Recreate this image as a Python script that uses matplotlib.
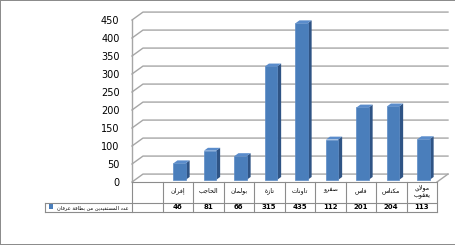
import matplotlib
matplotlib.use('Agg')
import matplotlib.pyplot as plt
from matplotlib.patches import Polygon, Rectangle

# data
categories = ['إفران', 'الحاجب', 'بولمان', 'تازة', 'تاونات', 'صفرو', 'فاس', 'مكناس', 'مولاي\nيعقوب']
values = [46, 81, 66, 315, 435, 112, 201, 204, 113]
series_name = 'عدد المستفيدين من بطاقة عرفان'
yticks = [0, 50, 100, 150, 200, 250, 300, 350, 400, 450]

# --- minimal arabic shaping (presentation forms + visual order) ---
FORMS = {
    'ا': (0xFE8D, 0xFE8E, None, None), 'إ': (0xFE87, 0xFE88, None, None),
    'ب': (0xFE8F, 0xFE90, 0xFE91, 0xFE92), 'ة': (0xFE93, 0xFE94, None, None),
    'ت': (0xFE95, 0xFE96, 0xFE97, 0xFE98), 'ج': (0xFE9D, 0xFE9E, 0xFE9F, 0xFEA0),
    'ح': (0xFEA1, 0xFEA2, 0xFEA3, 0xFEA4), 'د': (0xFEA9, 0xFEAA, None, None),
    'ر': (0xFEAD, 0xFEAE, None, None), 'ز': (0xFEAF, 0xFEB0, None, None),
    'س': (0xFEB1, 0xFEB2, 0xFEB3, 0xFEB4), 'ص': (0xFEB9, 0xFEBA, 0xFEBB, 0xFEBC),
    'ط': (0xFEC1, 0xFEC2, 0xFEC3, 0xFEC4), 'ع': (0xFEC9, 0xFECA, 0xFECB, 0xFECC),
    'ف': (0xFED1, 0xFED2, 0xFED3, 0xFED4), 'ق': (0xFED5, 0xFED6, 0xFED7, 0xFED8),
    'ك': (0xFED9, 0xFEDA, 0xFEDB, 0xFEDC), 'ل': (0xFEDD, 0xFEDE, 0xFEDF, 0xFEE0),
    'م': (0xFEE1, 0xFEE2, 0xFEE3, 0xFEE4), 'ن': (0xFEE5, 0xFEE6, 0xFEE7, 0xFEE8),
    'ه': (0xFEE9, 0xFEEA, 0xFEEB, 0xFEEC), 'و': (0xFEED, 0xFEEE, None, None),
    'ي': (0xFEF1, 0xFEF2, 0xFEF3, 0xFEF4),
    'لا': (0xFEFB, 0xFEFC, None, None), 'لإ': (0xFEF9, 0xFEFA, None, None),
}


def shape(text):
    lines = []
    for line in text.split('\n'):
        toks = []
        i = 0
        while i < len(line):
            if line[i] == 'ل' and i + 1 < len(line) and line[i:i + 2] in FORMS:
                toks.append(line[i:i + 2])
                i += 2
            else:
                toks.append(line[i])
                i += 1
        out = []
        for k, t in enumerate(toks):
            if t not in FORMS:
                out.append(t)
                continue
            prev = toks[k - 1] if k > 0 else None
            nxt = toks[k + 1] if k + 1 < len(toks) else None
            jp = prev in FORMS and FORMS[prev][2] is not None
            jn = nxt in FORMS and FORMS[t][2] is not None
            iso, fin, ini, med = FORMS[t]
            cp = med if (jp and jn) else fin if jp else ini if jn else iso
            out.append(chr(cp))
        lines.append(''.join(out)[::-1])
    return '\n'.join(lines)


plt.rcParams['font.family'] = ['DejaVu Sans']

fig = plt.figure(figsize=(4.56, 2.45), dpi=100)
fig.patch.set_edgecolor('#8c8c8c')
fig.patch.set_linewidth(1.2)

# axes = front plane of the 3d box
ax = fig.add_axes([132 / 456, 63 / 245, 305 / 456, 162 / 245])
ax.set_xlim(-1.5, 8.5)
ax.set_ylim(0, 450)
for s in ax.spines.values():
    s.set_visible(False)
ax.patch.set_alpha(0)
ax.set_xticks([])
ax.set_yticks(yticks)
ax.tick_params(axis='y', length=0, pad=9, labelsize=7)

DX, DY = 0.36, 22  # depth offset of back wall
grid_c = '#a6a6a6'
for v in yticks:
    ax.plot([-1.5, -1.5 + DX, 8.5 + DX], [v, v + DY, v + DY], color=grid_c, lw=1, clip_on=False, zorder=1)
# left edge and floor
ax.plot([-1.5, -1.5], [0, 450], color=grid_c, lw=1, clip_on=False, zorder=1)
ax.plot([8.5, 8.5 + DX], [0, DY], color=grid_c, lw=1, clip_on=False, zorder=1)

# bars (front face + side + top)
x = list(range(len(values)))
bw, bx, by = 0.4, 0.06, 6
sdx, sdy = 0.13, 8
ax.bar([xi + bx for xi in x], values, width=bw, bottom=by, color='#4a7ebb',
       edgecolor='#5b8bc6', linewidth=0.5, zorder=3)
for xi, v in zip(x, values):
    l = xi + bx - bw / 2
    r = xi + bx + bw / 2
    top = v + by
    ax.add_patch(Polygon([(r, by), (r + sdx, by + sdy), (r + sdx, top + sdy), (r, top)],
                         closed=True, facecolor='#2f5485', edgecolor='none', zorder=2))
    ax.add_patch(Polygon([(l, top), (l + sdx, top + sdy), (r + sdx, top + sdy), (r, top)],
                         closed=True, facecolor='#5a8ccb', edgecolor='none', zorder=4))

# data table
tc = '#8c8c8c'
r1, r2 = -58, -83
leg_l = -4.35
ax.plot([-1.5, 8.5], [0, 0], color=tc, lw=0.8, clip_on=False)
ax.plot([leg_l, 8.5], [r1, r1], color=tc, lw=0.8, clip_on=False)
ax.plot([leg_l, 8.5], [r2, r2], color=tc, lw=0.8, clip_on=False)
ax.plot([leg_l, leg_l], [r1, r2], color=tc, lw=0.8, clip_on=False)
for k in range(11):
    ax.plot([-1.5 + k, -1.5 + k], [0, r2], color=tc, lw=0.8, clip_on=False)

for xi, c, v in zip(x, categories, values):
    n = c.count('\n')
    ax.text(xi, -24 if n == 0 else -6, shape(c), ha='center', va='center' if n == 0 else 'top',
            fontsize=4.5, linespacing=1.5, clip_on=False)
    ax.text(xi, (r1 + r2) / 2, str(v), ha='center', va='center', fontsize=5, fontweight='bold', clip_on=False)

ax.add_patch(Rectangle((leg_l + 0.12, -76), 0.14, 14, facecolor='#4a7ebb', edgecolor='none', clip_on=False))
ax.text(-1.62, (r1 + r2) / 2, shape(series_name), ha='right', va='center', fontsize=3.7, clip_on=False)

fig.savefig('out.png', dpi=100, edgecolor=fig.get_edgecolor())
